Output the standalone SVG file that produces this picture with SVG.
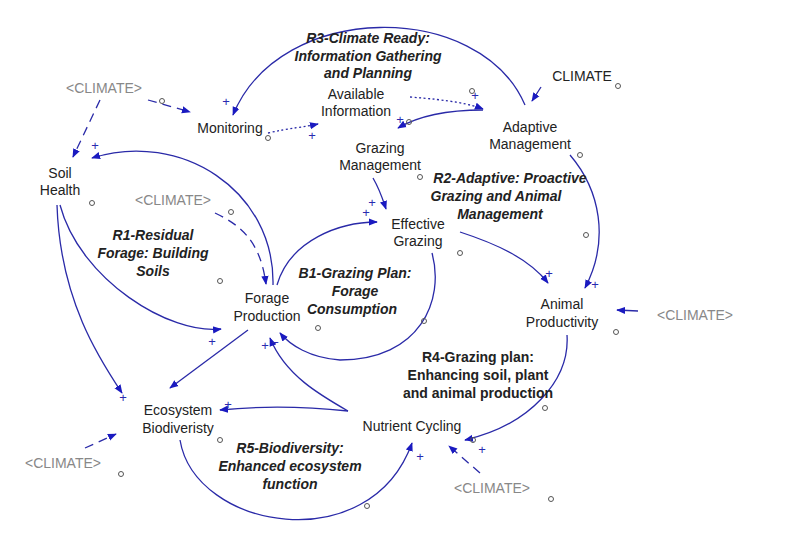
<svg xmlns="http://www.w3.org/2000/svg" width="787" height="556" viewBox="0 0 787 556">
<style>
text{font-family:"Liberation Sans",Arial,sans-serif;font-size:14px;fill:#222;text-anchor:middle}
.cl{fill:#888}
.lp{font-weight:bold;font-style:italic}
.lb{font-weight:bold}
.s{fill:#2a2ab0;font-size:13px}
.l{fill:none;stroke:#2a2aa8;stroke-width:1.3;marker-end:url(#a)}
.d{stroke-dasharray:9,6}
.t{stroke-dasharray:2,2.5}
.o{fill:none;stroke:#555;stroke-width:1}
</style>
<defs><marker id="a" viewBox="0 0 10 10" refX="9" refY="5" markerWidth="9" markerHeight="9" orient="auto" markerUnits="userSpaceOnUse"><path d="M0,1 L10,5 L0,9 z" fill="#1a1ac0"/></marker></defs>
<rect width="787" height="556" fill="#fff"/>
<g id="connectors">
<path class="l" d="M525,105 C480,0 280,0 233,115"/>
<path class="l d" d="M148,100 L190,112"/>
<path class="l d" d="M100,100 L73,157"/>
<path class="l t" d="M268,133 C290,128 305,127 318,124"/>
<path class="l t" d="M410,97 C450,100 470,104 483,109"/>
<path class="l" d="M483,110 C450,110 420,115 398,128"/>
<path class="l" d="M541,87 L532,101"/>
<path class="l" d="M373,178 C380,190 383,200 386,209"/>
<path class="l" d="M277,285 C290,240 340,222 377,222"/>
<path class="l" d="M432,253 C445,300 420,360 340,360 C310,358 290,345 280,333"/>
<path class="l" d="M273,285 C275,190 180,130 92,158"/>
<path class="l" d="M60,205 C80,280 170,335 221,329"/>
<path class="l" d="M57,205 C60,300 100,360 122,393"/>
<path class="l" d="M248,330 L170,388"/>
<path class="l" d="M348,411 C300,406 260,406 220,410"/>
<path class="l" d="M348,411 C320,395 285,375 270,338"/>
<path class="l" d="M460,232 C500,245 530,260 548,283"/>
<path class="l" d="M570,155 C600,190 610,240 585,288"/>
<path class="l" d="M638,311 L617,310"/>
<path class="l" d="M567,335 C570,380 530,425 465,440"/>
<path class="l" d="M180,440 C195,530 370,560 412,443"/>
<path class="l d" d="M85,448 L116,434"/>
<path class="l d" d="M480,473 L449,446"/>
<path class="l d" d="M215,213 C240,225 260,240 266,284"/>
</g>
<g id="polarity">
<text class="s" x="226" y="106">+</text>
<text class="s" x="312" y="140">+</text>
<text class="s" x="475" y="100">+</text>
<text class="s" x="400" y="124">+</text>
<text class="s" x="95" y="150">+</text>
<text class="s" x="372" y="207">+</text>
<text class="s" x="366" y="217">+</text>
<text class="s" x="212" y="346">+</text>
<text class="s" x="265" y="350">+</text>
<text class="s" x="275" y="347">−</text>
<text class="s" x="549" y="278">+</text>
<text class="s" x="595" y="289">+</text>
<text class="s" x="123" y="402">+</text>
<text class="s" x="228" y="409">+</text>
<text class="s" x="420" y="461">+</text>
<text class="s" x="482" y="454">+</text>
</g>
<g id="delays">
<circle class="o" cx="162" cy="101" r="2.5"/><circle class="o" cx="268" cy="138" r="2.5"/>
<circle class="o" cx="472" cy="91" r="2.5"/><circle class="o" cx="409" cy="122" r="2.5"/>
<circle class="o" cx="618" cy="86" r="2.5"/><circle class="o" cx="92" cy="203" r="2.5"/>
<circle class="o" cx="231" cy="212" r="2.5"/><circle class="o" cx="220" cy="281" r="2.5"/>
<circle class="o" cx="318" cy="328" r="2.5"/><circle class="o" cx="420" cy="177" r="2.5"/>
<circle class="o" cx="580" cy="155" r="2.5"/><circle class="o" cx="586" cy="235" r="2.5"/>
<circle class="o" cx="460" cy="253" r="2.5"/><circle class="o" cx="424" cy="321" r="2.5"/>
<circle class="o" cx="616" cy="332" r="2.5"/><circle class="o" cx="545" cy="408" r="2.5"/>
<circle class="o" cx="220" cy="440" r="2.5"/><circle class="o" cx="121" cy="474" r="2.5"/>
<circle class="o" cx="367" cy="506" r="2.5"/><circle class="o" cx="473" cy="440" r="2.5"/>
<circle class="o" cx="551" cy="499" r="2.5"/>
</g>
<g id="climate1"><text class="cl" x="104" y="93">&lt;CLIMATE&gt;</text></g>
<g id="climate2"><text class="cl" x="173" y="205">&lt;CLIMATE&gt;</text></g>
<g id="climate3"><text x="582" y="81">CLIMATE</text></g>
<g id="climate4"><text class="cl" x="695" y="320">&lt;CLIMATE&gt;</text></g>
<g id="climate5"><text class="cl" x="63" y="468">&lt;CLIMATE&gt;</text></g>
<g id="climate6"><text class="cl" x="492" y="493">&lt;CLIMATE&gt;</text></g>
<g id="monitoring"><text x="230" y="133">Monitoring</text></g>
<g id="available"><text x="356" y="99">Available</text><text x="356" y="116">Information</text></g>
<g id="adaptive"><text x="530" y="132">Adaptive</text><text x="530" y="149">Management</text></g>
<g id="grazingmgmt"><text x="380" y="153">Grazing</text><text x="380" y="170">Management</text></g>
<g id="soil"><text x="60" y="178">Soil</text><text x="60" y="195">Health</text></g>
<g id="effective"><text x="418" y="229">Effective</text><text x="418" y="246">Grazing</text></g>
<g id="forage"><text x="267" y="303">Forage</text><text x="267" y="321">Production</text></g>
<g id="animal"><text x="562" y="309">Animal</text><text x="562" y="327">Productivity</text></g>
<g id="ecosystem"><text x="178" y="415">Ecosystem</text><text x="178" y="433">Biodiveristy</text></g>
<g id="nutrient"><text x="412" y="431">Nutrient Cycling</text></g>
<g id="loops">
<text class="lp" x="368" y="43">R3-Climate Ready:</text><text class="lp" x="368" y="61">Information Gathering</text><text class="lp" x="368" y="78">and Planning</text>
<text class="lp" x="510" y="183">R2-Adaptive: Proactive</text><text class="lp" x="496" y="201">Grazing and Animal</text><text class="lp" x="500" y="219">Management</text>
<text class="lp" x="153" y="240">R1-Residual</text><text class="lp" x="153" y="258">Forage: Building</text><text class="lp" x="153" y="276">Soils</text>
<text class="lp" x="355" y="278">B1-Grazing Plan:</text><text class="lp" x="355" y="296">Forage</text><text class="lp" x="352" y="314">Consumption</text>
<text class="lb" x="478" y="362">R4-Grazing plan:</text><text class="lb" x="478" y="380">Enhancing soil, plant</text><text class="lb" x="478" y="398">and animal production</text>
<text class="lp" x="290" y="453">R5-Biodiversity:</text><text class="lp" x="290" y="471">Enhanced ecosystem</text><text class="lp" x="290" y="489">function</text>
</g>
</svg>
